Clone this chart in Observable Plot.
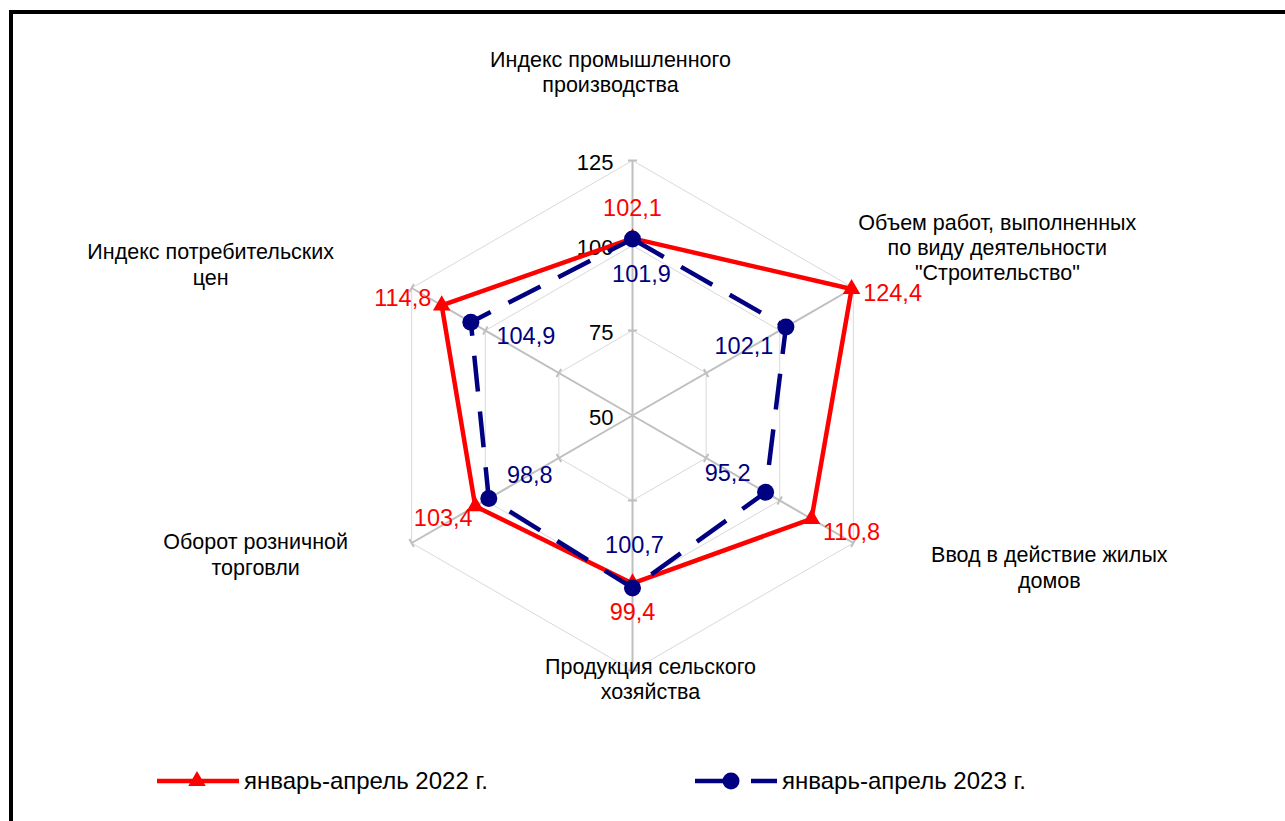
<!DOCTYPE html>
<html>
<head>
<meta charset="utf-8">
<script src="https://cdn.jsdelivr.net/npm/d3@7"></script>
<script src="https://cdn.jsdelivr.net/npm/@observablehq/plot@0.6"></script>
<style>
  html, body { margin: 0; padding: 0; background: #fff; }
  #wrap { position: relative; width: 1285px; height: 821px; overflow: hidden; font-family: "Liberation Sans", Arial, sans-serif; }
  #frame { position: absolute; left: 9px; top: 10px; width: 1300px; height: 840px; border-left: 4px solid #000; border-top: 4px solid #000; box-sizing: border-box; }
  #chart { position: absolute; left: 0; top: 0; }
  .legend-item { position: absolute; top: 767px; display: flex; align-items: center; font-size: 24px; color: #000; }
  .legend-item span { margin-left: 5px; }
</style>
</head>
<body>
<div id="wrap">
  <div id="frame"></div>
  <div id="chart"></div>
  <div id="legend"></div>
</div>
<script>
// ---- data ----
const categories = [
  "Индекс промышленного\nпроизводства",
  "Объем работ, выполненных\nпо виду деятельности\n\"Строительство\"",
  "Ввод в действие жилых\nдомов",
  "Продукция сельского\nхозяйства",
  "Оборот розничной\nторговли",
  "Индекс потребительских\nцен"
];
const seriesNames = ["январь-апрель 2022 г.", "январь-апрель 2023 г."];
const values2022 = [102.1, 124.4, 110.8, 99.4, 103.4, 114.8];
const values2023 = [101.9, 102.1, 95.2, 100.7, 98.8, 104.9];
const tickLevels = [50, 75, 100, 125];
const tickLabels = ["50", "75", "100", "125"];

// ---- helpers ----
const base = 50;
const n = categories.length;
const ang = i => i * 2 * Math.PI / n;
const polar = (v, i) => ({ x: (v - base) * Math.sin(ang(i)), y: (v - base) * Math.cos(ang(i)) });
const fmt = v => String(v).replace(".", ",");
const closed = arr => [...arr, arr[0]];

const pts2022 = values2022.map((v, i) => ({ i, v, ...polar(v, i) }));
const pts2023 = values2023.map((v, i) => ({ i, v, ...polar(v, i) }));

const ringData = tickLevels.slice(1).flatMap(level =>
  closed(categories.map((c, i) => ({ level, ...polar(level, i) }))));
const spokes = categories.map((c, i) => {
  const p = polar(tickLevels[tickLevels.length - 1], i);
  return { x1: 0, y1: 0, x2: p.x, y2: p.y };
});
const tickHalf = 1.35;
const ticks = tickLevels.slice(1).flatMap(level => categories.map((c, i) => {
  const p = polar(level, i);
  const px = Math.cos(ang(i)), py = -Math.sin(ang(i));
  return { x1: p.x - tickHalf * px, y1: p.y - tickHalf * py, x2: p.x + tickHalf * px, y2: p.y + tickHalf * py };
}));
const catAnchors = categories.map((c, i) => ({ label: c, ...polar(tickLevels[tickLevels.length - 1], i) }));

// label layout (pixel offsets)
const catOffsets = [[-22, -89], [144, -41], [196, 24], [18, 8], [-156, 11], [-201, -24]];
const off2022 = [[0, -30], [41, 4], [40, 14], [0, 29], [-32, 12], [-39, -7]];
const off2023 = [[9, 35], [-42, 20], [-38, -19], [2, -42], [41, -23], [55, 14]];

const RED = "#ff0000", NAVY = "#000080";
const FS_CAT = 21.5, FS_AXIS = 22, FS_VAL = 23.5;

const marks = [
  Plot.line(ringData, { x: "x", y: "y", z: "level", stroke: "#d9d9d9", strokeWidth: 1 }),
  Plot.link(spokes, { x1: "x1", y1: "y1", x2: "x2", y2: "y2", stroke: "#bfbfbf", strokeWidth: 2 }),
  Plot.link(ticks, { x1: "x1", y1: "y1", x2: "x2", y2: "y2", stroke: "#bfbfbf", strokeWidth: 2 }),
  Plot.text(tickLevels, { x: d => 0, y: d => d - base, text: (d, i) => tickLabels[i], textAnchor: "end", dx: -19, dy: 2, fontSize: FS_AXIS, fill: "#000" }),
  ...catAnchors.map((d, i) => Plot.text([d], { x: "x", y: "y", text: "label", dx: catOffsets[i][0], dy: catOffsets[i][1], fontSize: FS_CAT, lineHeight: 1.18, fill: "#000" })),
  Plot.line(closed(pts2022), { x: "x", y: "y", stroke: RED, strokeWidth: 4.5, strokeLinejoin: "round" }),
  Plot.dot(pts2022, { x: "x", y: "y", symbol: "triangle", r: 6.5, fill: RED }),
  Plot.line(closed(pts2023), { x: "x", y: "y", stroke: NAVY, strokeWidth: 4.5, strokeDasharray: "36,20", strokeLinecap: "butt" }),
  Plot.dot(pts2023, { x: "x", y: "y", r: 8.5, fill: NAVY }),
  ...pts2022.map((d, i) => Plot.text([d], { x: "x", y: "y", text: d => fmt(d.v), dx: off2022[i][0], dy: off2022[i][1], fill: RED, fontSize: FS_VAL })),
  ...pts2023.map((d, i) => Plot.text([d], { x: "x", y: "y", text: d => fmt(d.v), dx: off2023[i][0], dy: off2023[i][1], fill: NAVY, fontSize: FS_VAL }))
];

const R = 75;
const chart = Plot.plot({
  width: 1285,
  height: 720,
  x: { type: "linear", domain: [-R, R], range: [377, 887], axis: null },
  y: { type: "linear", domain: [-R, R], range: [670, 160], axis: null },
  style: { fontFamily: "\"Liberation Sans\", Arial, sans-serif", fontSize: FS_CAT + "px", background: "transparent", overflow: "visible" },
  marks
});
document.getElementById("chart").appendChild(chart);

// ---- legend ----
const legend = document.getElementById("legend");
function legendItem(left, name, color, marker) {
  const div = document.createElement("div");
  div.className = "legend-item";
  div.style.left = left + "px";
  const ns = "http://www.w3.org/2000/svg";
  const svg = document.createElementNS(ns, "svg");
  svg.setAttribute("width", 82); svg.setAttribute("height", 24);
  const line = document.createElementNS(ns, "line");
  line.setAttribute("x1", 0); line.setAttribute("x2", 82);
  line.setAttribute("y1", 12); line.setAttribute("y2", 12);
  line.setAttribute("stroke", color); line.setAttribute("stroke-width", 4.5);
  if (marker === "circle") line.setAttribute("stroke-dasharray", "36,20");
  svg.appendChild(line);
  const sym = document.createElementNS(ns, "path");
  const gen = d3.symbol(marker === "circle" ? d3.symbolCircle : d3.symbolTriangle, Math.PI * (marker === "circle" ? 8.5 * 8.5 : 6.5 * 6.5));
  sym.setAttribute("d", gen());
  sym.setAttribute("transform", `translate(${marker === "circle" ? 36 : 40},12)`);
  sym.setAttribute("fill", color);
  svg.appendChild(sym);
  div.appendChild(svg);
  const span = document.createElement("span");
  span.textContent = name;
  div.appendChild(span);
  legend.appendChild(div);
}
legendItem(157, seriesNames[0], RED, "triangle");
legendItem(695, seriesNames[1], NAVY, "circle");
</script>
</body>
</html>
